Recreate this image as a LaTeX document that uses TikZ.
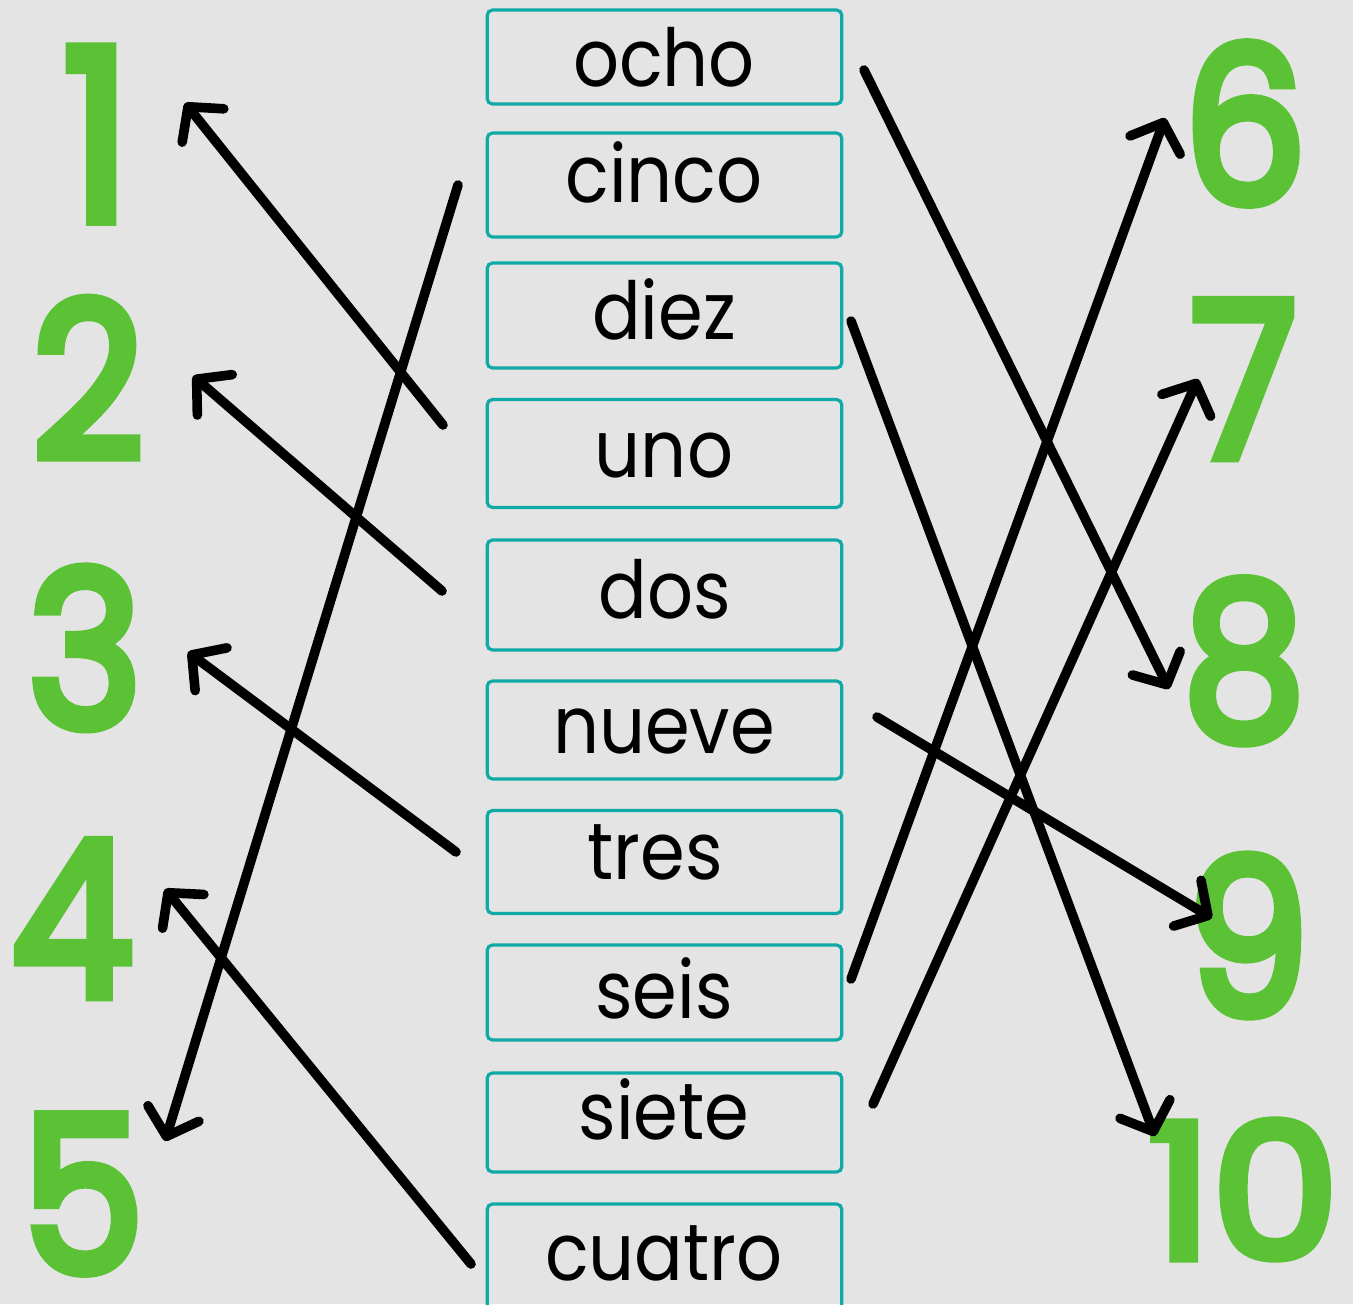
\documentclass[tikz,border=0pt]{standalone}
\usepackage{fontspec}
\setmainfont{Poppins}
\newfontfamily\wordfont{Poppins}
\newfontfamily\numfont{Poppins}[FakeBold=5]
\usetikzlibrary{arrows.meta}
\definecolor{bg}{HTML}{E4E4E4}
\definecolor{teal}{HTML}{0FAAA8}
\definecolor{brush}{HTML}{5BC236}
\tikzset{
  wordbox/.style={draw=teal, line width=2.4pt, rounded corners=4pt, minimum width=266pt, inner sep=0pt},
  word/.style={anchor=base, inner sep=0pt, font=\wordfont\fontsize{60}{60}\selectfont, text=black, xscale=0.9, transform shape},
  numeral/.style={anchor=base, inner sep=0pt, text=brush, font=\numfont\fontsize{162}{162}\selectfont, xscale=0.9, transform shape},
  link/.style={line width=7.2pt, line cap=round, -{Straight Barb[length=18pt,width=40pt,round]}}
}
\begin{document}
\begin{tikzpicture}[x=0.75pt,y=-0.75pt]
\useasboundingbox (0,0) rectangle (1353,1304);
\fill[bg] (0,0) rectangle (1353,1304);
\begin{scope}
\clip (0,0) rectangle (1353,1304);
% boxes
\node[wordbox, minimum height=70.5pt] (b-ocho)   at (664.5,57)   {};
\node[wordbox, minimum height=78pt]   (b-cinco)  at (664.5,185)  {};
\node[wordbox, minimum height=78.75pt] (b-diez)  at (664.5,315.5) {};
\node[wordbox, minimum height=81pt]   (b-uno)    at (664.5,453.5) {};
\node[wordbox, minimum height=82.5pt] (b-dos)    at (664.5,595)  {};
\node[wordbox, minimum height=73.5pt] (b-nueve)  at (664.5,730)  {};
\node[wordbox, minimum height=77.25pt] (b-tres)  at (664.5,862)  {};
\node[wordbox, minimum height=71.25pt] (b-seis)  at (664.5,992.5) {};
\node[wordbox, minimum height=74.25pt] (b-siete) at (664.5,1122.5) {};
\node[wordbox, minimum height=102pt]  (b-cuatro) at (664.5,1272) {};
% words
\node[word] (ocho)   at (664,86)   {ocho};
\node[word] (cinco)  at (664,202)  {cinco};
\node[word] (diez)   at (664,339)  {diez};
\node[word] (uno)    at (664,477)  {uno};
\node[word] (dos)    at (665,618)  {dos};
\node[word] (nueve)  at (664,753)  {nueve};
\node[word] (tres)   at (655,879)  {tres};
\node[word] (seis)   at (664,1018) {seis};
\node[word] (siete)  at (664,1139) {siete};
\node[word] (cuatro) at (664,1280) {cuatro};
\end{scope}
% numerals
\node[numeral, font=\numfont\fontsize{178}{178}\selectfont] (n1)  at (97,220)   {1};
\node[numeral] (n2)  at (88,458)   {2};
\node[numeral] (n3)  at (85,727)   {3};
\node[numeral] (n4)  at (72,996)   {4};
\node[numeral] (n5)  at (83,1272)  {5};
\node[numeral] (n6)  at (1245,203) {6};
\node[numeral] (n7)  at (1244,457) {7};
\node[numeral] (n8)  at (1244,738) {8};
\node[numeral] (n9)  at (1248,1015) {9};
\node[numeral, font=\numfont\fontsize{140}{140}\selectfont, xscale=1.2] (n10) at (1243,1258) {10};
% connector ends
\coordinate (s1) at (443,425);   \coordinate (t1) at (185,103);
\coordinate (s2) at (442,591);   \coordinate (t2) at (193,376);
\coordinate (s3) at (456,852);   \coordinate (t3) at (188,652);
\coordinate (s4) at (471,1264);  \coordinate (t4) at (165,889);
\coordinate (s5) at (458,185);   \coordinate (t5) at (165,1141);
\coordinate (s6) at (851,979);   \coordinate (t6) at (1165,118);
\coordinate (s7) at (873,1104);  \coordinate (t7) at (1198,379);
\coordinate (s8) at (864,70);    \coordinate (t8) at (1169,689);
\coordinate (s9) at (877,717);   \coordinate (t9) at (1212,918);
\coordinate (s10) at (851,321);  \coordinate (t10) at (1155,1136);
\draw[link] (s1) -- (t1);
\draw[link] (s2) -- (t2);
\draw[link] (s3) -- (t3);
\draw[link] (s4) -- (t4);
\draw[link] (s5) -- (t5);
\draw[link] (s6) -- (t6);
\draw[link] (s7) -- (t7);
\draw[link] (s8) -- (t8);
\draw[link] (s9) -- (t9);
\draw[link] (s10) -- (t10);
\end{tikzpicture}
\end{document}
